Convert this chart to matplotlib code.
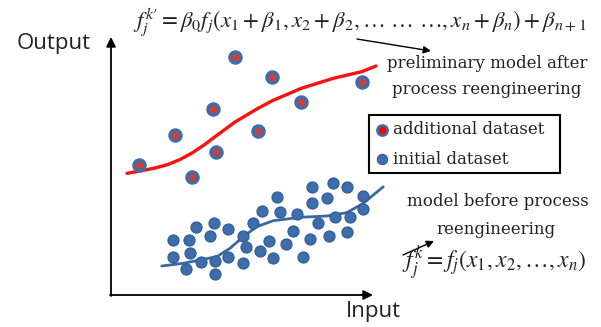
import matplotlib
matplotlib.use("Agg")
import matplotlib.pyplot as plt
from matplotlib.patches import Rectangle

plt.rcParams['mathtext.fontset'] = 'stix'

# ---- data (pixel-like schematic coordinates, y downward) ----
add_x = [139, 175, 192, 213, 216, 235, 258, 272, 301, 362]
add_y = [165, 135, 177, 109, 152, 57, 131, 77, 102, 82]

init_x = [172.7, 189.3, 196, 214, 210, 228.3, 173.3, 190, 186, 201, 215, 215, 228.3,
          242.7, 245.7, 242.7, 253.3, 262.3, 260, 269.3, 273.3, 277.3, 280, 286, 292.7,
          296.7, 303.3, 310, 311.7, 311.7, 318.3, 326.7, 329, 333.3, 335, 346.7, 346.7,
          350, 363.3, 362.7]
init_y = [240, 240, 226.7, 222.7, 236, 229, 257.3, 253.3, 269.3, 261.7, 260.7, 274, 257.3,
          236, 247.3, 262.7, 223.3, 211, 250.7, 241, 258.3, 196.7, 212.3, 244, 231,
          214.3, 256.7, 239.3, 186.7, 203.3, 223.3, 197.7, 235.7, 182.7, 217.3, 186.7, 231.7,
          217.3, 196, 209]

red_curve_x = [127, 140, 155, 168, 180, 192, 204, 216, 235, 258, 272.3, 301.3, 333.3, 361.7, 376]
red_curve_y = [173.3, 171, 168, 164.5, 159.5, 153, 145, 136, 122, 108.3, 100.7, 88.3, 78.3, 71.7, 66]

blue_curve_x = [161.7, 183.3, 200, 216.7, 230, 243.3, 256.7, 273.3, 300, 326.7, 346.7, 363.3, 383.3]
blue_curve_y = [266, 263.3, 260, 256.7, 248.3, 236.7, 226.7, 220.7, 217.3, 216, 212.7, 203.3, 186.7]

legend_labels = ["additional dataset", "initial dataset"]

W, H = 601, 327
fig = plt.figure(figsize=(W / 100, H / 100), dpi=100)
ax = fig.add_axes([0, 0, 1, 1])
ax.set_xlim(0, W)
ax.set_ylim(H, 0)
ax.axis('off')

BLUE = '#3d6dab'
BLUE_EDGE = '#2f5b96'
RED_C = '#c4433f'
TXT = '#222222'
SERIF = 'DejaVu Serif'
SFS = 12

# axes arrows
ax.annotate('', xy=(111, 37), xytext=(111, 296),
            arrowprops=dict(arrowstyle='-|>', color='black', lw=1.3, mutation_scale=14,
                            shrinkA=0, shrinkB=0))
ax.annotate('', xy=(373, 295), xytext=(110, 295),
            arrowprops=dict(arrowstyle='-|>', color='black', lw=1.3, mutation_scale=14,
                            shrinkA=0, shrinkB=0))
ax.text(54, 43, 'Output', fontsize=16, family='Open Sans', ha='center', va='center', color=TXT)
ax.text(373, 312, 'Input', fontsize=16, family='Open Sans', ha='center', va='center', color=TXT)

# curves
ax.plot(red_curve_x, red_curve_y, color='#ff1010', lw=2.4, solid_capstyle='round',
        solid_joinstyle='round', zorder=2)
ax.plot(blue_curve_x, blue_curve_y, color='#3b68a3', lw=2.0, solid_capstyle='round',
        solid_joinstyle='round', zorder=2)

# points
ax.scatter(init_x, init_y, s=64, facecolor=BLUE, edgecolor=BLUE_EDGE, linewidth=0.8, zorder=3)
ax.scatter(add_x, add_y, s=64, facecolor=RED_C, edgecolor=BLUE, linewidth=2.4, zorder=3)

# formulas
ax.text(133, 22, r"$f_j^{k\prime} = \beta_0 f_j(x_1 + \beta_1, x_2 + \beta_2, \ldots\ \ldots\ \ldots, x_n + \beta_n) + \beta_{n+1}$",
        fontsize=16.5, ha='left', va='center', color=TXT)
ax.text(402, 263, r"$f_j^k = f_j(x_1, x_2, \ldots, x_n)$",
        fontsize=17, ha='left', va='center', color=TXT)

# annotations
ax.annotate('', xy=(431, 51), xytext=(357, 39),
            arrowprops=dict(arrowstyle='-|>', color='black', lw=1.0, mutation_scale=11,
                            shrinkA=0, shrinkB=0))
ax.annotate('', xy=(434, 241), xytext=(403, 255),
            arrowprops=dict(arrowstyle='-|>', color='black', lw=1.0, mutation_scale=11,
                            shrinkA=0, shrinkB=0))
ax.text(487, 64, 'preliminary model after', fontsize=SFS, family=SERIF,
        ha='center', va='center', color=TXT)
ax.text(487, 89, 'process reengineering', fontsize=SFS, family=SERIF,
        ha='center', va='center', color=TXT)
ax.text(498, 202, 'model before process', fontsize=SFS, family=SERIF,
        ha='center', va='center', color=TXT)
ax.text(496, 229, 'reengineering', fontsize=SFS, family=SERIF,
        ha='center', va='center', color=TXT)

# legend box
ax.add_patch(Rectangle((369, 115), 191, 58, fill=False, edgecolor='black', lw=1.5, zorder=4))
ax.scatter([382], [130], s=55, facecolor='#ff0000', edgecolor=BLUE, linewidth=1.8, zorder=5)
ax.scatter([382], [159], s=55, facecolor=BLUE, edgecolor=BLUE_EDGE, linewidth=0.8, zorder=5)
ax.text(393, 130, legend_labels[0], fontsize=SFS, family=SERIF, ha='left',
        va='center', color=TXT)
ax.text(393, 159, legend_labels[1], fontsize=SFS, family=SERIF, ha='left',
        va='center', color=TXT)

fig.savefig('out.png', dpi=100)
